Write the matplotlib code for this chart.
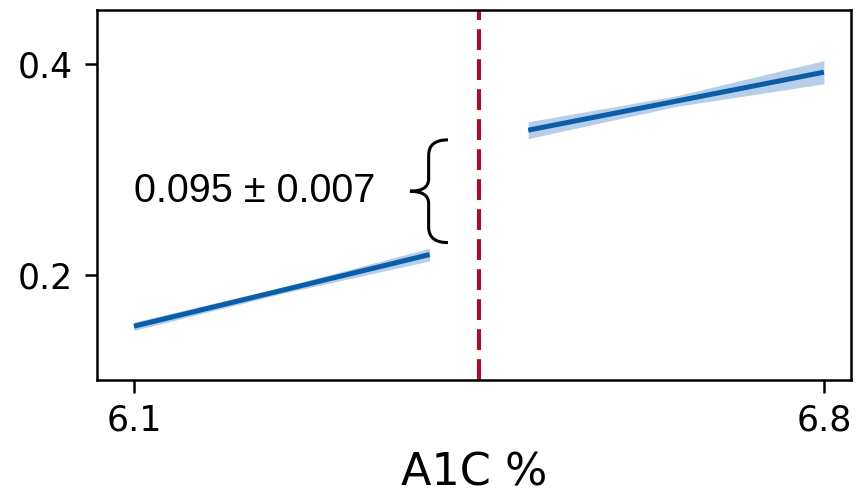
import matplotlib.pyplot as plt
import numpy as np
from matplotlib.patches import PathPatch
from matplotlib.path import Path

# Fitted probability on each side of the A1C cutoff, with a confidence band
cutoff = 6.45

x_below = [6.10, 6.25, 6.40]
fit_below = [0.151, 0.185, 0.219]
err_below = [0.004, 0.003, 0.006]

x_above = [6.50, 6.65, 6.80]
fit_above = [0.337, 0.3645, 0.392]
err_above = [0.008, 0.005, 0.011]

jump_label = "0.095 ± 0.007"
xticks = [6.1, 6.8]
yticks = [0.2, 0.4]

line_color = "#0a5da8"
band_color = "#a9c6e3"
cut_color = "#a50f2d"

fig = plt.figure(figsize=(8.59, 4.95), dpi=100)
ax = fig.add_axes([97 / 859, 115 / 495, 754 / 859, 370 / 495])

for xs, fit, err in [(x_below, fit_below, err_below), (x_above, fit_above, err_above)]:
    xs = np.array(xs)
    fit = np.array(fit)
    err = np.array(err)
    ax.fill_between(xs, fit - err, fit + err, color=band_color, alpha=0.85, lw=0)
    ax.plot(xs, fit, color=line_color, lw=3.6, solid_capstyle="butt")

ax.axvline(cutoff, color=cut_color, lw=3, dashes=(5, 2.2))

# Curly brace spanning the jump at the cutoff, built from the two fits
lo = np.polyval(np.polyfit(x_below, fit_below, 1), cutoff)
hi = np.polyval(np.polyfit(x_above, fit_above, 1), cutoff)
yc = (lo + hi) / 2
h = hi - lo
xa, xm, xt = 6.4186, 6.399, 6.380
verts = [
    (xa, hi), (xm, hi), (xm, hi - 0.15 * h),
    (xm, yc + 0.12 * h),
    (xm, yc), (xt, yc),
    (xm, yc), (xm, yc - 0.12 * h),
    (xm, lo + 0.15 * h),
    (xm, lo), (xa, lo),
]
codes = [
    Path.MOVETO, Path.CURVE3, Path.CURVE3,
    Path.LINETO,
    Path.CURVE3, Path.CURVE3,
    Path.CURVE3, Path.CURVE3,
    Path.LINETO,
    Path.CURVE3, Path.CURVE3,
]
ax.add_patch(PathPatch(Path(verts, codes), fill=False, lw=2.2, color="black"))

ax.text(6.222, yc, jump_label, ha="center", va="center",
        fontsize=28.5, family=["Liberation Sans", "DejaVu Sans"])

ax.set_xlim(6.0625, 6.8275)
ax.set_ylim(0.10, 0.451)
ax.set_xticks(xticks)
ax.set_xticklabels([f"{t:.1f}" for t in xticks])
ax.set_yticks(yticks)
ax.set_yticklabels([f"{t:.1f}" for t in yticks])
ax.tick_params(labelsize=25, length=9, width=1.8, pad=8)
for s in ax.spines.values():
    s.set_linewidth(1.8)
ax.set_xlabel("A1C %", fontsize=32, labelpad=10)

fig.savefig("out.png", dpi=100)
